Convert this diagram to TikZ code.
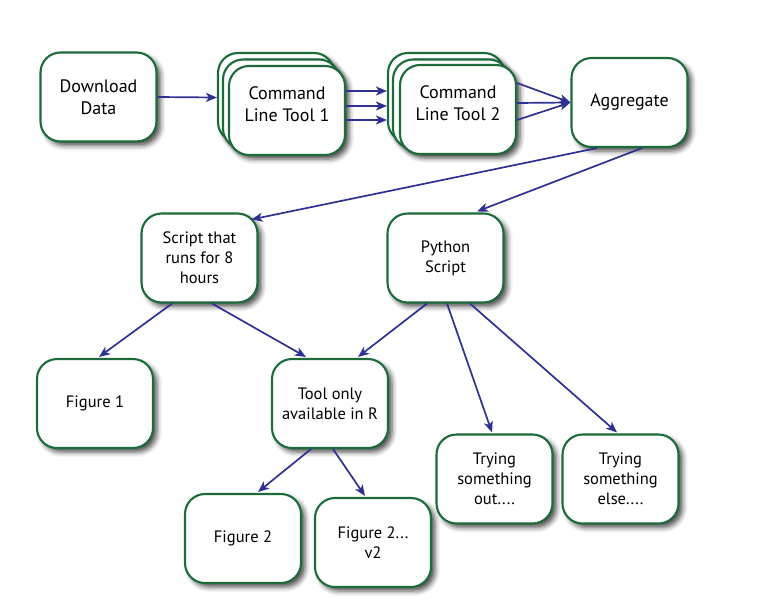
\documentclass[tikz,border=0pt]{standalone}
\usepackage{fontspec}
\setmainfont{PT Sans}
\usetikzlibrary{arrows.meta,shadows.blur,calc}
\definecolor{boxgreen}{HTML}{1C6B3A}
\definecolor{arrowblue}{HTML}{2E3192}
\tikzset{
  box/.style={draw=boxgreen, line width=2.1pt, fill=white, rounded corners=20pt,
    minimum width=116pt, minimum height=89pt, inner sep=2pt, align=center,
    font=\fontsize{16.5}{20}\selectfont,
    blur shadow={shadow xshift=4pt, shadow yshift=-4pt, shadow blur radius=5pt, shadow opacity=70}},
  bigbox/.style={box, font=\fontsize{18}{22}\selectfont},
  conn/.style={draw=arrowblue, line width=1.7pt, -{Stealth[length=11pt,width=9pt,inset=3pt]}}
}
\begin{document}
\begin{tikzpicture}[x=1pt,y=-1pt]
\useasboundingbox (0,0) rectangle (759,605);
% top row
\node[bigbox] (d) at (98.5,97) {Download\\Data};
\node[bigbox] (c1a) at (276,97.5) {};
\node[bigbox] (c1b) at (281,104) {};
\node[bigbox] (c1) at (287,110.5) {Command\\Line Tool 1\\[-10pt]};
\node[bigbox] (c2a) at (446,97.5) {};
\node[bigbox] (c2b) at (451,104) {};
\node[bigbox] (c2) at (458,109.5) {Command\\Line Tool 2\\[-10pt]};
\node[bigbox] (ag) at (629.5,102.5) {Aggregate};
% lower rows
\node[box] (s) at (199.5,258) {Script that\\runs for 8\\hours};
\node[box] (p) at (445.5,258) {Python\\Script};
\node[box] (f1) at (95,403.5) {Figure 1};
\node[box] (r) at (330,403.5) {Tool only\\available in R};
\node[box] (t1) at (494.5,479) {Trying\\something\\out....};
\node[box] (t2) at (620.5,479) {Trying\\something\\else....};
\node[box] (f2) at (243,538.5) {Figure 2};
\node[box] (v) at (373,542.5) {Figure 2...\\v2};
% connectors
\draw[conn] (d.east) -- (c1a.west);
\draw[conn] ($(c1.east)+(0,-19.5)$) -- ($(c2a.west)+(0,-6.5)$);
\draw[conn] ($(c1.east)+(0,-4.5)$) -- ($(c2a.west)+(0,8.5)$);
\draw[conn] ($(c1.east)+(0,9.5)$) -- ($(c2a.west)+(0,22.5)$);
\draw[conn] ($(c2.east)+(0,-26.5)$) -- (ag.west);
\draw[conn] ($(c2.east)+(0,-6.5)$) -- (ag.west);
\draw[conn] ($(c2.east)+(0,10.5)$) -- (ag.west);
\draw[conn] ($(ag.south)+(-32.5,0)$) -- ($(s.north east)+(-7,7)$);
\draw[conn] ($(ag.south)+(12.5,0)$) -- ($(p.north)+(31.5,-1)$);
\draw[conn] ($(s.south)+(-27.5,0)$) -- ($(f1.north)+(4,-1)$);
\draw[conn] ($(s.south)+(12.5,0)$) -- ($(r.north)+(-24,-1)$);
\draw[conn] ($(p.south)+(-18.5,0)$) -- ($(r.north)+(28,-1)$);
\draw[conn] ($(p.south)+(1.5,0)$) -- ($(t1.north)+(-2.5,-1)$);
\draw[conn] ($(p.south)+(24.5,0)$) -- ($(t2.north)+(-3.5,-1)$);
\draw[conn] ($(r.south)+(-19,0)$) -- ($(f2.north)+(15,-1)$);
\draw[conn] ($(r.south)+(3,0)$) -- ($(v.north)+(-8,-1)$);
\end{tikzpicture}
\end{document}
